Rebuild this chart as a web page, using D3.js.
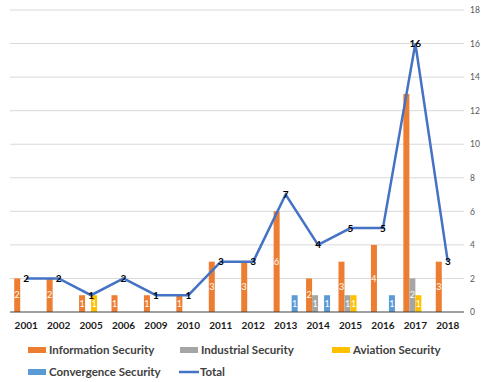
<!DOCTYPE html>
<html>
<head>
<meta charset="utf-8">
<script src="https://cdn.jsdelivr.net/npm/d3@7"></script>
<style>
  body { margin: 0; background: #fff; }
  svg { display: block; font-family: Lato, "Open Sans", sans-serif; }
</style>
</head>
<body>
<svg id="chart" width="481" height="382"></svg>
<script>
var years = ["2001", "2002", "2005", "2006", "2009", "2010", "2011", "2012", "2013", "2014", "2015", "2016", "2017", "2018"];
var information = [2, 2, 1, 1, 1, 1, 3, 3, 6, 2, 3, 4, 13, 3];
var industrial  = [0, 0, 0, 0, 0, 0, 0, 0, 0, 1, 1, 0, 2, 0];
var aviation    = [0, 0, 1, 0, 0, 0, 0, 0, 0, 0, 1, 0, 1, 0];
var convergence = [0, 0, 0, 0, 0, 0, 0, 0, 1, 1, 0, 1, 0, 0];
var total       = [2, 2, 1, 2, 1, 1, 3, 3, 7, 4, 5, 5, 16, 3];
var yTicks = [0, 2, 4, 6, 8, 10, 12, 14, 16, 18];

var seriesNames = ["Information Security", "Industrial Security", "Aviation Security", "Convergence Security"];
var seriesValues = [information, industrial, aviation, convergence];
var colors = ["#ED7D31", "#A5A5A5", "#FFC000", "#5B9BD5"];
var lineColor = "#4472C4";

var svg = d3.select("#chart"),
  margin = {top: 10, right: 17, bottom: 70, left: 10},
  width = +svg.attr("width") - margin.left - margin.right,
  height = +svg.attr("height") - margin.top - margin.bottom;

var x0 = d3.scaleBand().domain(years).range([0, width]).paddingInner(0.26).paddingOuter(0.13);
var x1 = d3.scaleBand().domain(d3.range(seriesNames.length)).range([0, x0.bandwidth()]);
var y = d3.scaleLinear().domain([0, 18]).range([height, 0]);

var g = svg.append("g")
  .attr("transform", "translate(" + margin.left + "," + margin.top + ")");

// gridlines
g.append("g")
  .selectAll("line")
  .data(yTicks.slice(1))
  .enter().append("line")
  .attr("x1", 0)
  .attr("x2", width)
  .attr("y1", function (d) { return y(d); })
  .attr("y2", function (d) { return y(d); })
  .attr("stroke", "#d9d9d9")
  .attr("stroke-width", 1);

// right axis
var yAxis = d3.axisRight(y).tickValues(yTicks).tickSize(0).tickPadding(6);
g.append("g")
  .attr("transform", "translate(" + width + ",0)")
  .call(yAxis)
  .call(function (s) { s.select(".domain").remove(); })
  .selectAll("text")
  .attr("fill", "#595959")
  .style("font-size", "8.5px")
  .style("font-family", "Lato, sans-serif");

// bars
var bars = [];
seriesValues.forEach(function (vals, si) {
  vals.forEach(function (v, i) {
    if (v > 0) bars.push({s: si, year: years[i], value: v});
  });
});

var barG = g.append("g");
barG.selectAll("rect")
  .data(bars)
  .enter().append("rect")
  .attr("x", function (d) { return x0(d.year) + x1(d.s); })
  .attr("y", function (d) { return y(d.value); })
  .attr("width", x1.bandwidth())
  .attr("height", function (d) { return height - y(d.value); })
  .attr("fill", function (d) { return colors[d.s]; });

// the big 2017 bar shows no label in the original
barG.selectAll("text")
  .data(bars.filter(function (d) { return d.value < 10; }))
  .enter().append("text")
  .attr("x", function (d) { return x0(d.year) + x1(d.s) + x1.bandwidth() / 2; })
  .attr("y", function (d) { return (y(d.value) + height) / 2; })
  .attr("dy", "0.36em")
  .attr("text-anchor", "middle")
  .attr("fill", "#fff")
  .style("font-size", "9px")
  .text(function (d) { return d.value; });

// baseline
g.append("line")
  .attr("x1", 0).attr("x2", width)
  .attr("y1", height).attr("y2", height)
  .attr("stroke", "#404040")
  .attr("stroke-width", 1);

// x axis labels
var xAxis = d3.axisBottom(x0).tickSize(0).tickPadding(10);
g.append("g")
  .attr("transform", "translate(0," + height + ")")
  .call(xAxis)
  .call(function (s) { s.select(".domain").remove(); })
  .selectAll("text")
  .attr("fill", "#1a1a1a")
  .style("font-size", "10px")
  .style("font-weight", "bold")
  .style("font-family", "Lato, sans-serif");

// total line
var line = d3.line()
  .x(function (d, i) { return x0(years[i]) + x0.bandwidth() / 2; })
  .y(function (d) { return y(d); });

g.append("path")
  .datum(total)
  .attr("fill", "none")
  .attr("stroke", lineColor)
  .attr("stroke-width", 2.5)
  .attr("stroke-linejoin", "miter")
  .attr("d", line);

g.append("g")
  .selectAll("text")
  .data(total)
  .enter().append("text")
  .attr("x", function (d, i) { return x0(years[i]) + x0.bandwidth() / 2; })
  .attr("y", function (d) { return y(d); })
  .attr("dy", "0.36em")
  .attr("text-anchor", "middle")
  .attr("fill", "#000")
  .style("font-size", "10px")
  .style("font-weight", "bold")
  .text(function (d) { return d; });

// legend
var legendItems = [
  {name: seriesNames[0], color: colors[0], type: "rect", x: 28, y: 350},
  {name: seriesNames[1], color: colors[1], type: "rect", x: 180, y: 350},
  {name: seriesNames[2], color: colors[2], type: "rect", x: 332, y: 350},
  {name: seriesNames[3], color: colors[3], type: "rect", x: 28, y: 372},
  {name: "Total", color: lineColor, type: "line", x: 179, y: 372}
];

var legend = svg.append("g");
var li = legend.selectAll("g")
  .data(legendItems)
  .enter().append("g")
  .attr("transform", function (d) { return "translate(" + d.x + "," + d.y + ")"; });

li.filter(function (d) { return d.type === "rect"; })
  .append("rect")
  .attr("x", 0).attr("y", -3)
  .attr("width", 18).attr("height", 6)
  .attr("fill", function (d) { return d.color; });

li.filter(function (d) { return d.type === "line"; })
  .append("line")
  .attr("x1", 0).attr("x2", 20)
  .attr("y1", 0).attr("y2", 0)
  .attr("stroke", function (d) { return d.color; })
  .attr("stroke-width", 2.5);

li.append("text")
  .attr("x", function (d) { return d.type === "line" ? 21 : 21; })
  .attr("y", 0)
  .attr("dy", "0.36em")
  .attr("fill", "#404040")
  .style("font-size", "11.5px")
  .style("font-weight", "bold")
  .text(function (d) { return d.name; });
</script>
</body>
</html>
